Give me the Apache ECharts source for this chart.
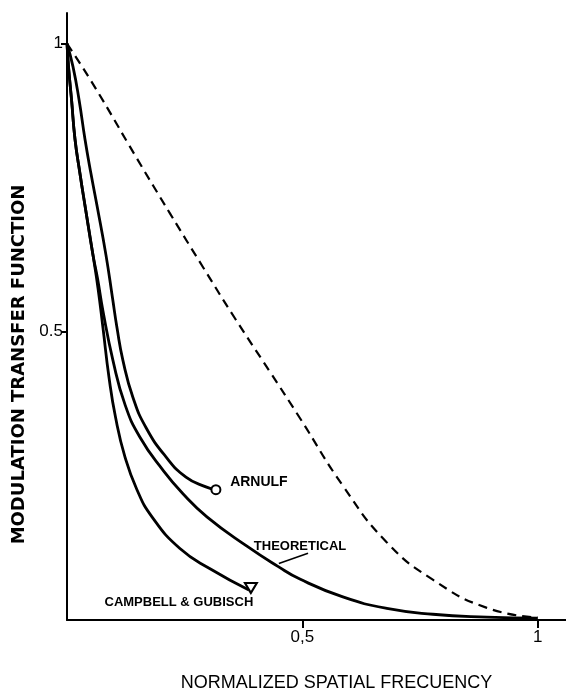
<!DOCTYPE html>
<html>
<head>
<meta charset="utf-8">
<script src="https://cdn.jsdelivr.net/npm/echarts@6/dist/echarts.min.js"></script>
<style>
html,body{margin:0;padding:0;background:#fff;}
#chart{width:566px;height:697px;}
</style>
</head>
<body>
<div id="chart"></div>
<script>
// Normalized spatial frequency / MTF pairs
const diffractionLimit = [[0,1],[0.055,0.93],[0.149,0.80],[0.219,0.705],[0.289,0.612],[0.357,0.523],[0.43,0.432],[0.495,0.35],[0.586,0.233],[0.679,0.135],[0.777,0.07],[0.892,0.021],[1.0,0.004]];
const theoretical = [[0,1],[0.0032,0.960],[0.0096,0.903],[0.017,0.834],[0.0276,0.774],[0.0382,0.719],[0.0552,0.633],[0.0648,0.593],[0.0764,0.536],[0.0977,0.450],[0.1231,0.374],[0.155,0.317],[0.2038,0.260],[0.2463,0.219],[0.2972,0.179],[0.3822,0.128],[0.448,0.093],[0.4947,0.071],[0.586,0.040],[0.6794,0.020],[0.7771,0.010],[0.8917,0.005],[1.0,0.003]];
const arnulf = [[0,1],[0.0127,0.960],[0.0255,0.903],[0.0382,0.834],[0.051,0.774],[0.0637,0.719],[0.0828,0.633],[0.0966,0.559],[0.1062,0.507],[0.1189,0.450],[0.1401,0.386],[0.1677,0.334],[0.2102,0.283],[0.2527,0.248],[0.2951,0.231],[0.3163,0.226]];
const campbellGubisch = [[0,1],[0.0032,0.960],[0.0096,0.903],[0.017,0.834],[0.0276,0.774],[0.0382,0.719],[0.0552,0.633],[0.0658,0.576],[0.0764,0.507],[0.0892,0.421],[0.103,0.352],[0.1231,0.283],[0.1486,0.226],[0.1805,0.179],[0.2399,0.124],[0.3057,0.088],[0.3864,0.052]];
const xTicks = [0.5, 1];
const yTicks = [0.5, 1];
const xTickLabels = ['0,5', '1'];
const yTickLabels = ['0.5', '1'];
const labelArnulf = 'ARNULF';
const labelTheoretical = 'THEORETICAL';
const labelCampbell = 'CAMPBELL & GUBISCH';
const xName = 'NORMALIZED SPATIAL FRECUENCY';
const yName = 'MODULATION TRANSFER FUNCTION';

const ink = '#000';
const annFont = {fontFamily:'Liberation Sans', fontWeight:'bold', fontSize:13, color:ink};

function withEnd(arr, endItem) {
  const d = arr.map(p => p.slice());
  const last = d.pop();
  d.push(Object.assign({value: last}, endItem));
  return d;
}

const chart = echarts.init(document.getElementById('chart'), null, {renderer:'canvas'});
chart.setOption({
  backgroundColor:'#fff',
  animation:false,
  grid:{left:67, right:0, top:13, bottom:73, containLabel:false},
  xAxis:{
    type:'value', min:0, max:1.06,
    name:xName, nameLocation:'middle', nameGap:54,
    nameTextStyle:{fontFamily:'Liberation Sans', fontSize:18, color:ink, padding:[0,0,0,40]},
    axisLine:{show:true, onZero:false, lineStyle:{color:ink, width:2}},
    axisTick:{show:true, customValues:xTicks, length:8, lineStyle:{color:ink, width:2}},
    axisLabel:{show:true, customValues:xTicks, margin:9, fontFamily:'Liberation Sans', fontSize:17, color:ink,
      formatter:v => xTickLabels[xTicks.indexOf(v)] ?? ''},
    splitLine:{show:false}
  },
  yAxis:{
    type:'value', min:0, max:1.053,
    name:yName, nameLocation:'middle', nameGap:37, nameRotate:90,
    nameTextStyle:{fontFamily:'DejaVu Sans', fontWeight:'bold', fontSize:18, color:ink, padding:[0,96,0,0]},
    axisLine:{show:true, onZero:false, lineStyle:{color:ink, width:2}},
    axisTick:{show:true, customValues:yTicks, length:6, lineStyle:{color:ink, width:2}},
    axisLabel:{show:true, customValues:yTicks, margin:4, fontFamily:'Liberation Sans', fontSize:17, color:ink,
      formatter:v => yTickLabels[yTicks.indexOf(v)] ?? ''},
    splitLine:{show:false}
  },
  series:[
    {
      name:'Diffraction limit', type:'line', data:diffractionLimit, smooth:0.5,
      symbol:'none', lineStyle:{color:ink, width:2.2, type:[9,6]}, z:2
    },
    {
      name:'Theoretical', type:'line', data:theoretical, smooth:0.5,
      symbol:'none', lineStyle:{color:ink, width:2.8}, z:3,
      markLine:{
        silent:true, symbol:['none','arrow'], symbolSize:[0,8],
        lineStyle:{color:ink, width:1.6, type:'solid'},
        label:{show:false},
        data:[[{coord:[0.512,0.116]},{coord:[0.45,0.098]}]]
      },
      markPoint:{
        silent:true, symbol:'circle', symbolSize:0,
        label:Object.assign({show:true, position:'inside', formatter:labelTheoretical}, annFont),
        data:[{coord:[0.495,0.128]}]
      }
    },
    {
      name:'Arnulf', type:'line', smooth:0.5,
      data:withEnd(arnulf, {
        symbol:'circle', symbolSize:9,
        itemStyle:{color:'#fff', borderColor:ink, borderWidth:2},
        label:Object.assign({show:true, position:'inside', formatter:labelArnulf, offset:[43,-8]}, annFont, {fontSize:14})
      }),
      symbol:'none', showSymbol:true, lineStyle:{color:ink, width:2.8}, z:4
    },
    {
      name:'Campbell & Gubisch', type:'line', smooth:0.5,
      data:withEnd(campbellGubisch, {
        symbol:'triangle', symbolSize:[12,10], symbolRotate:180, symbolOffset:[2,-2],
        itemStyle:{color:'#fff', borderColor:ink, borderWidth:2},
        label:Object.assign({show:true, position:'inside', formatter:labelCampbell, offset:[-72,14], rotate:0}, annFont)
      }),
      symbol:'none', showSymbol:true, lineStyle:{color:ink, width:2.8}, z:4
    }
  ]
});
</script>
</body>
</html>
